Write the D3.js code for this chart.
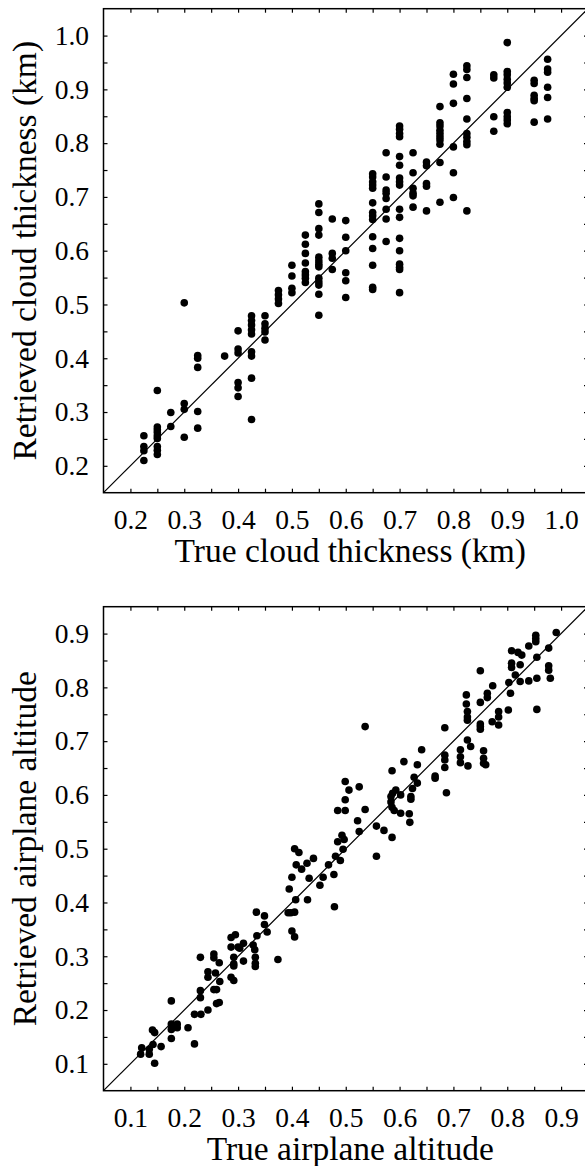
<!DOCTYPE html>
<html>
<head>
<meta charset="utf-8">
<script src="https://cdn.jsdelivr.net/npm/d3@7"></script>
<style>
  html, body { margin: 0; padding: 0; background: #fff; }
  svg { display: block; }
  text { font-family: "Liberation Serif", "Times New Roman", serif; fill: #000; }
</style>
</head>
<body>
<svg id="chart" width="585" height="1166"></svg>
<script>
// ---------------- DATA ----------------
// Top panel: true cloud thickness levels (km) and retrieved values at each level
const cloudTrueLevels = [0.225, 0.25, 0.275, 0.3, 0.325, 0.375, 0.4, 0.425, 0.45, 0.475, 0.5, 0.525, 0.55, 0.575, 0.6, 0.65, 0.675, 0.7, 0.725, 0.75, 0.775, 0.8, 0.825, 0.875, 0.9, 0.95, 0.975];
const cloudRetrieved = [
  [0.256, 0.236, 0.228, 0.21],
  [0.34, 0.272, 0.267, 0.262, 0.256, 0.251, 0.236, 0.229, 0.221],
  [0.299, 0.273],
  [0.503, 0.316, 0.305, 0.253],
  [0.405, 0.400, 0.383, 0.301, 0.27],
  [0.404],
  [0.451, 0.417, 0.410, 0.355, 0.345, 0.329],
  [0.479, 0.470, 0.462, 0.453, 0.445, 0.412, 0.404, 0.363, 0.286],
  [0.479, 0.464, 0.456, 0.449, 0.434],
  [0.526, 0.518, 0.510, 0.502],
  [0.573, 0.553, 0.530, 0.522],
  [0.629, 0.612, 0.595, 0.577, 0.561, 0.555, 0.549, 0.541],
  [0.687, 0.671, 0.641, 0.629, 0.588, 0.581, 0.575, 0.570, 0.549, 0.542, 0.536, 0.519, 0.480],
  [0.659, 0.595, 0.586, 0.565],
  [0.656, 0.625, 0.600, 0.559, 0.544, 0.513],
  [0.743, 0.737, 0.728, 0.722, 0.716, 0.689, 0.671, 0.665, 0.658, 0.626, 0.604, 0.573, 0.532, 0.528],
  [0.782, 0.737, 0.713, 0.707, 0.697, 0.677, 0.659, 0.617],
  [0.832, 0.826, 0.818, 0.812, 0.775, 0.759, 0.735, 0.728, 0.722, 0.677, 0.662, 0.623, 0.600, 0.575, 0.569, 0.565, 0.522],
  [0.782, 0.745, 0.716, 0.707, 0.702, 0.681],
  [0.765, 0.758, 0.725, 0.72, 0.674],
  [0.868, 0.838, 0.832, 0.824, 0.818, 0.812, 0.806, 0.798, 0.764, 0.69],
  [0.928, 0.91, 0.874, 0.793, 0.745, 0.699],
  [0.944, 0.937, 0.922, 0.883, 0.845, 0.818, 0.811, 0.803, 0.797, 0.674],
  [0.927, 0.921, 0.849, 0.822],
  [0.987, 0.933, 0.927, 0.919, 0.912, 0.904, 0.857, 0.849, 0.843, 0.836],
  [0.917, 0.911, 0.889, 0.883, 0.879, 0.839],
  [0.956, 0.938, 0.932, 0.904, 0.885, 0.845]
];

// Bottom panel: true and retrieved airplane altitude (paired)
const altTrue = [
  0.121,0.119,0.135,0.135,0.142,0.145,0.157,0.141,0.145,0.176,0.176,0.176,0.176,0.187,0.187,0.181,0.207,0.219,0.219,0.231,
  0.230,0.230,0.230,0.244,0.244,0.244,0.255,0.255,0.258,0.265,0.266,0.260,0.255,0.260,0.265,0.287,0.292,0.287,0.287,0.295,
  0.292,0.292,0.292,0.300,0.303,0.310,0.310,0.328,0.331,0.332,0.332,0.332,0.335,0.334,0.349,0.349,0.354,0.374,0.393,0.398,
  0.405,0.400,0.405,0.407,0.429,0.479,
  0.405,0.413,0.408,0.418,0.400,0.428,0.440,0.432,0.452,0.468,0.478,0.490,0.458,0.395,
  0.891,0.877,0.853,0.853,0.853,0.840,0.827,0.820,0.808,0.808,0.808,0.824,0.855,0.815,0.803,0.806,0.824,0.840,0.855,0.877,
  0.877,0.880,0.855,0.750,0.773,0.763,0.763,0.750,0.724,0.724,0.726,0.726,0.726,0.750,0.750,0.750,0.772,0.784,0.784,0.784,
  0.802,0.684,0.726,0.732,0.713,0.713,0.713,0.727,0.756,0.756,0.756,0.760,0.684,0.684,0.684,0.666,0.666,0.687,0.641,0.633,
  0.608,0.586,0.627,0.633,0.624,0.621,0.621,0.618,0.619,0.602,0.593,0.587,0.584,0.584,0.586,0.590,0.602,0.557,0.571,0.586,
  0.557,0.536,0.536,0.525,0.506,0.499,0.499,0.499,0.485,0.522,0.525,0.493,0.497,0.485,0.495,0.481
];
const altRetrieved = [
  0.130,0.118,0.127,0.118,0.136,0.101,0.132,0.163,0.158,0.217,0.174,0.164,0.147,0.174,0.167,0.169,0.167,0.137,0.192,0.192,
  0.223,0.236,0.298,0.200,0.261,0.271,0.304,0.297,0.269,0.288,0.253,0.238,0.238,0.212,0.214,0.261,0.255,0.317,0.335,0.340,
  0.298,0.286,0.282,0.317,0.315,0.324,0.291,0.321,0.312,0.298,0.287,0.281,0.338,0.382,0.375,0.359,0.345,0.294,0.381,0.381,
  0.382,0.347,0.336,0.405,0.405,0.392,
  0.500,0.493,0.470,0.462,0.447,0.473,0.482,0.445,0.432,0.470,0.452,0.478,0.447,0.425,
  0.902,0.873,0.897,0.891,0.885,0.877,0.860,0.865,0.868,0.845,0.837,0.842,0.856,0.823,0.809,0.789,0.811,0.812,0.817,0.840,
  0.832,0.817,0.759,0.831,0.803,0.789,0.781,0.772,0.786,0.769,0.755,0.745,0.739,0.732,0.727,0.722,0.736,0.745,0.730,0.755,
  0.758,0.725,0.702,0.690,0.684,0.671,0.660,0.654,0.682,0.668,0.659,0.656,0.674,0.665,0.651,0.635,0.631,0.604,0.684,0.656,
  0.662,0.645,0.633,0.622,0.612,0.597,0.592,0.565,0.549,0.600,0.609,0.603,0.597,0.587,0.577,0.571,0.566,0.542,0.534,0.521,
  0.486,0.727,0.573,0.615,0.609,0.625,0.591,0.571,0.571,0.552,0.532,0.525,0.517,0.513,0.499,0.486
];

// Tick values
const cloudMajorTicks = [0.2, 0.3, 0.4, 0.5, 0.6, 0.7, 0.8, 0.9, 1.0];
const cloudMinorTicks = [0.25, 0.35, 0.45, 0.55, 0.65, 0.75, 0.85, 0.95];
const altMajorTicks = [0.1, 0.2, 0.3, 0.4, 0.5, 0.6, 0.7, 0.8, 0.9];
const altMinorTicks = [0.15, 0.25, 0.35, 0.45, 0.55, 0.65, 0.75, 0.85];

const cloudDomain = [0.15, 1.05];
const altDomain = [0.05, 0.95];

// ---------------- DRAW ----------------
const svg = d3.select("#chart");
svg.append("rect").attr("width", 585).attr("height", 1166).attr("fill", "#fff");

const LEFT = 103.5, RIGHT = 588;
const TICK_FONT = 27.5, TITLE_FONT = 33.5;

function panel(opts) {
  const x = d3.scaleLinear().domain(opts.domain).range([LEFT, RIGHT]);
  const y = d3.scaleLinear().domain(opts.domain).range([opts.bottom, opts.top]);
  const g = svg.append("g");

  // scatter points
  g.append("g").selectAll("circle")
    .data(opts.points)
    .join("circle")
    .attr("cx", d => x(d[0]))
    .attr("cy", d => y(d[1]))
    .attr("r", 3.8)
    .attr("fill", "#000");

  // 1:1 line
  g.append("line")
    .attr("x1", x(opts.domain[0])).attr("y1", y(opts.domain[0]))
    .attr("x2", x(opts.domain[1])).attr("y2", y(opts.domain[1]))
    .attr("stroke", "#000").attr("stroke-width", 1.2);

  const allTicks = opts.major.concat(opts.minor);
  const styleAxis = sel => {
    sel.select(".domain").remove();
    sel.selectAll(".tick line").attr("stroke", "#000").attr("stroke-width", 1.2);
  };

  // bottom axis with labels
  const gb = g.append("g").attr("transform", `translate(0,${opts.bottom})`)
    .call(d3.axisBottom(x).tickValues(opts.major).tickSize(-4).tickPadding(16.5).tickFormat(d3.format(".1f")));
  styleAxis(gb);
  gb.selectAll("text").attr("font-size", TICK_FONT);
  const gbm = g.append("g").attr("transform", `translate(0,${opts.bottom})`)
    .call(d3.axisBottom(x).tickValues(opts.minor).tickSize(-4).tickFormat(""));
  styleAxis(gbm);

  // top axis ticks
  const gt = g.append("g").attr("transform", `translate(0,${opts.top})`)
    .call(d3.axisTop(x).tickValues(allTicks).tickSize(-4).tickFormat(""));
  styleAxis(gt);

  // left axis with labels
  const gl = g.append("g").attr("transform", `translate(${LEFT},0)`)
    .call(d3.axisLeft(y).tickValues(opts.major).tickSize(-4).tickPadding(14.5).tickFormat(d3.format(".1f")));
  styleAxis(gl);
  gl.selectAll("text").attr("font-size", TICK_FONT);
  const glm = g.append("g").attr("transform", `translate(${LEFT},0)`)
    .call(d3.axisLeft(y).tickValues(opts.minor).tickSize(-4).tickFormat(""));
  styleAxis(glm);

  // right axis ticks
  const gr = g.append("g").attr("transform", `translate(${RIGHT},0)`)
    .call(d3.axisRight(y).tickValues(allTicks).tickSize(-4).tickFormat(""));
  styleAxis(gr);

  // frame
  g.append("rect")
    .attr("x", LEFT).attr("y", opts.top)
    .attr("width", RIGHT - LEFT).attr("height", opts.bottom - opts.top)
    .attr("fill", "none").attr("stroke", "#000").attr("stroke-width", 1.5);

  // titles
  g.append("text")
    .attr("x", (LEFT + 587) / 2 + 5).attr("y", opts.bottom + 69)
    .attr("text-anchor", "middle").attr("font-size", TITLE_FONT)
    .text(opts.xTitle);
  g.append("text")
    .attr("transform", `translate(36,${(opts.top + opts.bottom) / 2}) rotate(-90)`)
    .attr("text-anchor", "middle").attr("font-size", TITLE_FONT)
    .text(opts.yTitle);
}

const cloudPoints = [];
cloudTrueLevels.forEach((lv, i) => cloudRetrieved[i].forEach(v => cloudPoints.push([lv, v])));
const altPoints = altTrue.map((t, i) => [t, altRetrieved[i]]);

panel({
  domain: cloudDomain, top: 8.7, bottom: 492.7,
  major: cloudMajorTicks, minor: cloudMinorTicks, points: cloudPoints,
  xTitle: "True cloud thickness (km)", yTitle: "Retrieved cloud thickness (km)"
});
panel({
  domain: altDomain, top: 606.7, bottom: 1090.7,
  major: altMajorTicks, minor: altMinorTicks, points: altPoints,
  xTitle: "True airplane altitude", yTitle: "Retrieved airplane altitude"
});
</script>
</body>
</html>
